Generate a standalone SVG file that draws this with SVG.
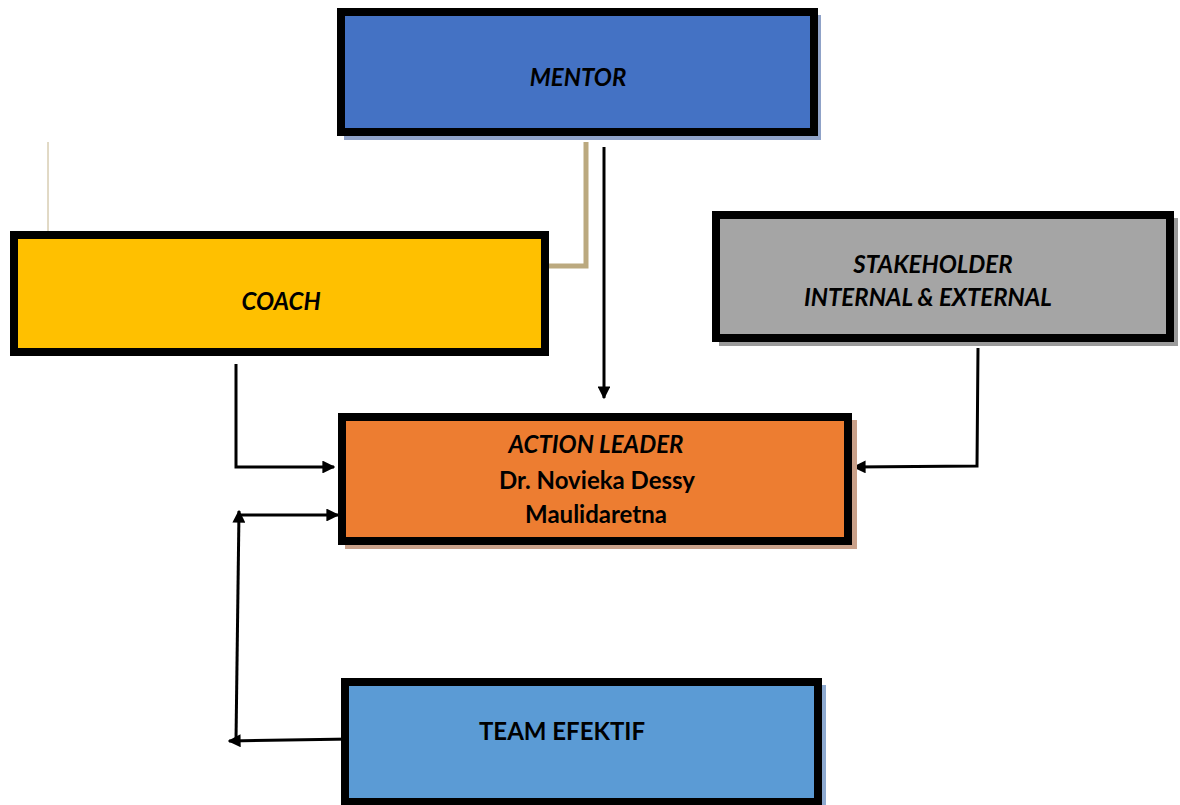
<svg xmlns="http://www.w3.org/2000/svg" width="1180" height="805" viewBox="0 0 1180 805">
<style>
.box{stroke:#000;stroke-width:8}
.t{font-family:Lato,"Liberation Sans",sans-serif;font-weight:bold;font-size:24px;fill:#000;text-anchor:middle}
.i{font-style:italic}
.c{fill:none;stroke:#000;stroke-width:3}
</style>
<defs>
<marker id="ah" viewBox="0 0 10 10" refX="9" refY="5" markerWidth="4.3" markerHeight="4.3" orient="auto" markerUnits="strokeWidth">
<path d="M0,0 L10,5 L0,10 z" fill="#000"/>
</marker>
</defs>
<rect width="1180" height="805" fill="#fff"/>
<g id="connectors">
<line x1="48" y1="142" x2="48" y2="231" stroke="#C4B48C" stroke-width="1"/>
<polyline points="586,142 586,266 549,266" fill="none" stroke="#BBA97F" stroke-width="5"/>
<line class="c" x1="604" y1="147" x2="604" y2="398" marker-end="url(#ah)"/>
<polyline class="c" points="236,364 236,467 334,467" marker-end="url(#ah)"/>
<polyline class="c" points="978,348 977,466 854,467" marker-end="url(#ah)"/>
<line class="c" x1="240" y1="515" x2="338" y2="515" marker-end="url(#ah)"/>
<line class="c" x1="236" y1="740" x2="239" y2="511" marker-end="url(#ah)"/>
<line class="c" x1="352" y1="739" x2="229" y2="741" marker-end="url(#ah)"/>
</g>
<g id="mentor">
<rect x="344" y="15" width="477" height="125" fill="#8FA2C8"/>
<rect class="box" x="341" y="12" width="473" height="120" fill="#4472C4"/>
<text class="t i" x="578" y="86">MENTOR</text>
</g>
<g id="coach">
<rect class="box" x="14" y="235" width="531" height="117" fill="#FFC000"/>
<text class="t i" x="281" y="310">COACH</text>
</g>
<g id="stakeholder">
<rect x="719" y="218" width="459" height="128" fill="#9A9A9A"/>
<rect class="box" x="716" y="215" width="454" height="123" fill="#A5A5A5"/>
<text class="t i" x="933" y="273">STAKEHOLDER</text>
<text class="t i" x="928" y="306">INTERNAL &amp; EXTERNAL</text>
</g>
<g id="action-leader">
<rect x="345" y="420" width="512" height="129" fill="#C9A18A"/>
<rect class="box" x="342" y="417" width="506" height="124" fill="#ED7D31"/>
<text class="t i" x="596" y="453">ACTION LEADER</text>
<text class="t" x="597" y="489">Dr. Novieka Dessy</text>
<text class="t" x="596" y="523">Maulidaretna</text>
</g>
<g id="team-efektif">
<rect x="348" y="685" width="478" height="125" fill="#8EAAD0"/>
<rect class="box" x="345" y="682" width="473" height="120" fill="#5B9BD5"/>
<text class="t" x="562" y="740">TEAM EFEKTIF</text>
</g>
</svg>
